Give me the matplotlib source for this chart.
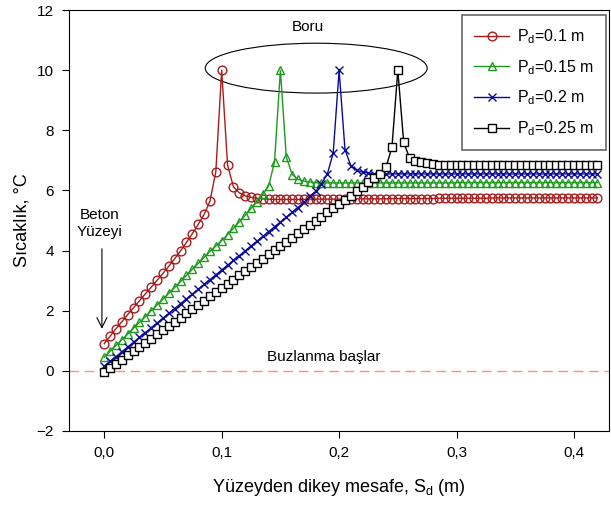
import numpy as np
import matplotlib
matplotlib.use("Agg")
import matplotlib.pyplot as plt
from matplotlib.patches import Ellipse
from matplotlib.ticker import FuncFormatter

plt.rcParams['font.family'] = ['Liberation Sans', 'DejaVu Sans']

# vertical distance from the concrete surface (m), 5 mm steps
s_d = np.linspace(0, 0.42, 85)

# temperature profiles (°C) for each pipe depth
t_01 = [0.90, 1.15, 1.40, 1.63, 1.87, 2.10, 2.33, 2.56, 2.78, 3.01,
        3.24, 3.48, 3.73, 3.99, 4.27, 4.56, 4.87, 5.20, 5.64, 6.62,
        10.0, 6.85, 6.12, 5.92, 5.82, 5.77, 5.74, 5.72, 5.71, 5.70,
        5.70, 5.70, 5.70, 5.70, 5.70, 5.71, 5.71, 5.71, 5.71, 5.71,
        5.71, 5.71, 5.72, 5.72, 5.72, 5.72, 5.72, 5.72, 5.72, 5.73,
        5.73, 5.73, 5.73, 5.73, 5.73, 5.73, 5.73, 5.74, 5.74, 5.74,
        5.74, 5.74, 5.74, 5.74, 5.74, 5.74, 5.75, 5.75, 5.75, 5.75,
        5.75, 5.75, 5.75, 5.75, 5.75, 5.75, 5.75, 5.75, 5.75, 5.75,
        5.75, 5.75, 5.75, 5.75, 5.75]

t_015 = [0.45, 0.65, 0.84, 1.03, 1.22, 1.42, 1.61, 1.80, 2.00, 2.19,
         2.38, 2.58, 2.77, 2.97, 3.17, 3.37, 3.57, 3.77, 3.97, 4.15,
         4.33, 4.53, 4.74, 4.95, 5.17, 5.40, 5.63, 5.88, 6.15, 6.95,
         10.0, 7.12, 6.53, 6.37, 6.31, 6.28, 6.26, 6.25, 6.25, 6.25,
         6.25, 6.25, 6.25, 6.25, 6.25, 6.25, 6.25, 6.25, 6.25, 6.25,
         6.25, 6.25, 6.25, 6.25, 6.25, 6.25, 6.25, 6.25, 6.25, 6.25,
         6.26, 6.26, 6.26, 6.26, 6.26, 6.26, 6.26, 6.26, 6.26, 6.26,
         6.26, 6.26, 6.26, 6.26, 6.26, 6.26, 6.26, 6.26, 6.26, 6.26,
         6.26, 6.26, 6.26, 6.26, 6.26]

t_02 = [0.15, 0.31, 0.47, 0.63, 0.79, 0.95, 1.11, 1.27, 1.43, 1.59,
        1.75, 1.91, 2.07, 2.23, 2.39, 2.55, 2.71, 2.87, 3.03, 3.19,
        3.35, 3.51, 3.67, 3.83, 3.99, 4.15, 4.31, 4.47, 4.63, 4.79,
        4.95, 5.11, 5.27, 5.43, 5.60, 5.80, 5.97, 6.22, 6.55, 7.25,
        10.0, 7.36, 6.82, 6.67, 6.61, 6.58, 6.56, 6.55, 6.55, 6.55,
        6.55, 6.55, 6.55, 6.55, 6.55, 6.55, 6.55, 6.55, 6.55, 6.55,
        6.55, 6.55, 6.55, 6.55, 6.55, 6.55, 6.55, 6.55, 6.55, 6.55,
        6.55, 6.55, 6.55, 6.55, 6.55, 6.55, 6.55, 6.55, 6.55, 6.55,
        6.55, 6.55, 6.55, 6.55, 6.55]

t_025 = [-0.05, 0.09, 0.23, 0.37, 0.51, 0.65, 0.79, 0.93, 1.07, 1.21,
         1.35, 1.49, 1.63, 1.77, 1.91, 2.05, 2.19, 2.33, 2.47, 2.61,
         2.75, 2.89, 3.03, 3.17, 3.31, 3.45, 3.59, 3.73, 3.87, 4.01,
         4.15, 4.29, 4.43, 4.57, 4.71, 4.85, 4.99, 5.13, 5.27, 5.41,
         5.55, 5.69, 5.83, 5.98, 6.13, 6.28, 6.42, 6.56, 6.78, 7.44,
         10.0, 7.60, 7.08, 6.98, 6.93, 6.90, 6.88, 6.86, 6.85, 6.84,
         6.84, 6.83, 6.83, 6.83, 6.83, 6.83, 6.83, 6.83, 6.83, 6.83,
         6.83, 6.83, 6.83, 6.83, 6.83, 6.83, 6.83, 6.83, 6.83, 6.83,
         6.83, 6.83, 6.83, 6.83, 6.83]

labels = ['$\\mathregular{P_d}$=0.1 m', '$\\mathregular{P_d}$=0.15 m',
          '$\\mathregular{P_d}$=0.2 m', '$\\mathregular{P_d}$=0.25 m']

fig = plt.figure(figsize=(6.11, 5.08), dpi=100)
ax = fig.add_axes([0.113, 0.152, 0.884, 0.828])

ax.plot(s_d, t_01, color='#a81c1c', lw=1, marker='o', ms=6.3,
        mfc='none', mec='#a81c1c', mew=1, label=labels[0])
ax.plot(s_d, t_015, color='#1e9a1e', lw=1, marker='^', ms=6.3,
        mfc='none', mec='#1e9a1e', mew=1, label=labels[1])
ax.plot(s_d, t_02, color='#0a0a96', lw=1, marker='x', ms=6,
        mec='#0a0a96', mew=1, label=labels[2])
ax.plot(s_d, t_025, color='black', lw=1, marker='s', ms=6,
        mfc='white', mec='black', mew=1, label=labels[3])

# freezing line
ax.axhline(0, color='#ff8c8c', lw=1, ls=(0, (7, 4)), zorder=0)
ax.text(0.187, 0.45, 'Buzlanma başlar', ha='center', va='center', fontsize=11)

# pipe outline
ax.add_patch(Ellipse((0.1805, 10.07), 0.189, 1.66, fill=False,
                     ec='black', lw=0.8))
ax.text(0.173, 11.45, 'Boru', ha='center', va='center', fontsize=11)

ax.text(-0.004, 4.9, 'Beton\nYüzeyi', ha='center', va='center',
        fontsize=11, linespacing=1.2)
ax.annotate('', xy=(-0.002, 1.3), xytext=(-0.002, 4.15),
            arrowprops=dict(arrowstyle='->', color='black', lw=0.8,
                            mutation_scale=18))

ax.set_xlim(-0.03, 0.43)
ax.set_ylim(-2, 12)
ax.set_xticks([0.0, 0.1, 0.2, 0.3, 0.4])
ax.xaxis.set_major_formatter(FuncFormatter(lambda v, p: f'{v:.1f}'.replace('.', ',')))
ax.set_yticks(range(-2, 13, 2))
ax.tick_params(direction='out', length=5, labelsize=11, pad=6)

ax.set_xlabel('Yüzeyden dikey mesafe, $\\mathregular{S_d}$ (m)', fontsize=13, labelpad=12)
ax.set_ylabel('Sıcaklık, °C', fontsize=13, labelpad=4)

leg = ax.legend(loc='upper right', fontsize=11.5, frameon=True, fancybox=False,
                handlelength=2.2, handletextpad=0.5, borderpad=0.75,
                labelspacing=0.75, borderaxespad=0,
                bbox_to_anchor=(0.994, 0.988))
leg.get_frame().set_edgecolor('#404040')
leg.get_frame().set_linewidth(1.2)

fig.savefig('out.png', dpi=100)
